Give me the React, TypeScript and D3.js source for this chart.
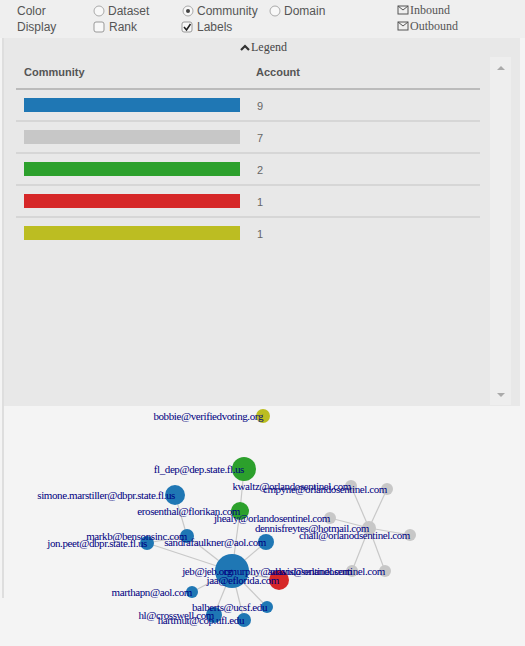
import React, { useEffect, useRef } from 'react';
import * as d3 from 'd3';

const communities = ['c0', 'c1', 'c2', 'c3', 'c4'];
const communityColors = ['#1f77b4', '#c7c7c7', '#2ca02c', '#d62728', '#bcbd22'];
const accountCounts = [9, 7, 2, 1, 1];

const nodeNames = ['bobbie@verifiedvoting.org', 'fl_dep@dep.state.fl.us', 'simone.marstiller@dbpr.state.fl.us', 'erosenthal@florikan.com',
  'markb@bensonsinc.com', 'jon.peet@dbpr.state.fl.us', 'sandrafaulkner@aol.com', 'jeb@jeb.org', 'jaa@eflorida.com',
  'marthapn@aol.com', 'balberts@ucsf.edu', 'hl@crosswell.com', 'hartmut@cop.ufl.edu',
  'kwaltz@orlandosentinel.com', 'cmpyne@orlandosentinel.com', 'jhealy@orlandosentinel.com', 'dennisfreytes@hotmail.com',
  'chall@orlanodsentinel.com', 'cmurphy@orlandosentinel.com', 'adavis@orlandosentinel.com'];
const nodeGroup = [4, 2, 0, 2, 0, 0, 0, 0, 3, 0, 0, 0, 0, 1, 1, 1, 1, 1, 1, 1];
const nodeX = [263, 244, 175, 240, 187, 147, 266, 232, 279, 192, 267, 214, 244, 351, 387, 330, 369, 410, 352, 385];
const nodeY = [416, 469, 495, 511, 536, 543, 542, 571, 580, 592, 607, 615, 620, 486, 489, 518, 528, 535, 571, 571];
const nodeR = [7, 12, 10, 9, 7, 7, 8, 17, 10, 6, 6, 8, 7, 6, 6, 6, 7, 6, 6, 6];
const edgeSource = [7, 7, 7, 7, 7, 7, 7, 7, 7, 3, 4, 4, 16, 16, 16, 16, 16, 16];
const edgeTarget = [6, 4, 3, 8, 9, 10, 11, 12, 5, 1, 2, 5, 13, 14, 15, 17, 18, 19];

export default function App() {
  const ref = useRef<SVGSVGElement>(null);
  useEffect(() => {
    const svg = d3.select(ref.current);
    svg.selectAll('*').remove();
    const sans = 'Arial, "Liberation Sans", sans-serif';
    const serif = '"Times New Roman", "Liberation Serif", serif';

    svg.append('rect').attr('width', 525).attr('height', 646).attr('fill', '#f4f4f4');
    svg.append('rect').attr('width', 525).attr('height', 38).attr('fill', '#efefef');
    svg.append('line').attr('x1', 3).attr('x2', 3).attr('y1', 38).attr('y2', 598).attr('stroke', '#c8c8c8');

    // controls
    const ctl = svg.append('g').attr('font-family', sans).attr('font-size', 12).attr('fill', '#555');
    ctl.append('text').attr('x', 17).attr('y', 15).text('Color');
    ctl.append('text').attr('x', 17).attr('y', 31).text('Display');
    [[99, 'Dataset', false], [188, 'Community', true], [275, 'Domain', false]].forEach(([x, t, on]) => {
      ctl.append('circle').attr('cx', x as number).attr('cy', 11).attr('r', 5).attr('fill', '#f8f8f8').attr('stroke', '#aaa');
      if (on) ctl.append('circle').attr('cx', x as number).attr('cy', 11).attr('r', 2).attr('fill', '#444');
      ctl.append('text').attr('x', (x as number) + 9).attr('y', 15).text(t as string);
    });
    [[94, 'Rank', false], [182, 'Labels', true]].forEach(([x, t, on]) => {
      ctl.append('rect').attr('x', x as number).attr('y', 22).attr('width', 10).attr('height', 10).attr('rx', 2)
        .attr('fill', '#f8f8f8').attr('stroke', '#999');
      if (on) ctl.append('path').attr('d', `M${(x as number) + 2},27 l2.5,3 l4,-6`).attr('stroke', '#222').attr('stroke-width', 1.6).attr('fill', 'none');
      ctl.append('text').attr('x', (x as number) + 15).attr('y', 31).text(t as string);
    });
    [[10, 'Inbound'], [26, 'Outbound']].forEach(([y, t]) => {
      ctl.append('rect').attr('x', 398).attr('y', (y as number) - 4).attr('width', 10).attr('height', 8).attr('fill', 'none').attr('stroke', '#555');
      ctl.append('path').attr('d', `M398,${(y as number) - 4} l5,4 l5,-4`).attr('fill', 'none').attr('stroke', '#555');
      ctl.append('text').attr('x', 410).attr('y', (y as number) + 4).attr('font-family', serif).attr('font-size', 12).text(t as string);
    });

    // legend panel
    svg.append('rect').attr('x', 4).attr('y', 38).attr('width', 516).attr('height', 368).attr('fill', '#e8e8e8');
    svg.append('rect').attr('x', 490).attr('y', 57).attr('width', 21).attr('height', 348).attr('fill', '#eeeeee');
    svg.append('path').attr('d', 'M497,70 l4,-4 l4,4 z').attr('fill', '#aaa');
    svg.append('path').attr('d', 'M497,393 l4,4 l4,-4 z').attr('fill', '#aaa');
    svg.append('path').attr('d', 'M241,50 l4,-4 l4,4').attr('stroke', '#333').attr('stroke-width', 2.2).attr('fill', 'none');
    svg.append('text').attr('x', 251).attr('y', 51).attr('font-family', serif).attr('font-size', 12).attr('fill', '#444').text('Legend');
    svg.append('text').attr('x', 24).attr('y', 76).attr('font-family', sans).attr('font-size', 11).attr('font-weight', 'bold').attr('fill', '#555').text('Community');
    svg.append('text').attr('x', 256).attr('y', 76).attr('font-family', sans).attr('font-size', 11).attr('font-weight', 'bold').attr('fill', '#555').text('Account');
    svg.append('line').attr('x1', 16).attr('x2', 480).attr('y1', 89).attr('y2', 89).attr('stroke', '#bbb').attr('stroke-width', 2);

    const rowY = d3.scaleBand().domain(communities).range([89, 249]);
    const barW = d3.scaleLinear().domain([0, 1]).range([0, 216]);
    const rows = svg.append('g').selectAll('g').data(communities).join('g')
      .attr('transform', d => `translate(0,${rowY(d)})`);
    rows.append('rect').attr('x', 24).attr('y', 9).attr('height', 14).attr('width', barW(1))
      .attr('fill', (d, i) => communityColors[i]);
    rows.append('text').attr('x', 257).attr('y', 21).attr('font-family', sans).attr('font-size', 11).attr('fill', '#666')
      .text((d, i) => accountCounts[i]);
    rows.filter((d, i) => i < communities.length - 1).append('line').attr('x1', 16).attr('x2', 480)
      .attr('y1', rowY.bandwidth()).attr('y2', rowY.bandwidth()).attr('stroke', '#c4c4c4');

    // network
    const net = svg.append('g');
    net.selectAll('line').data(edgeSource).join('line')
      .attr('x1', s => nodeX[s]).attr('y1', s => nodeY[s])
      .attr('x2', (s, i) => nodeX[edgeTarget[i]]).attr('y2', (s, i) => nodeY[edgeTarget[i]])
      .attr('stroke', '#c8c8c8').attr('stroke-width', 1.2);
    net.selectAll('circle').data(nodeNames).join('circle')
      .attr('cx', (d, i) => nodeX[i]).attr('cy', (d, i) => nodeY[i]).attr('r', (d, i) => nodeR[i])
      .attr('fill', (d, i) => communityColors[nodeGroup[i]]);
    net.selectAll('text').data(nodeNames).join('text')
      .attr('x', (d, i) => nodeX[i]).attr('y', (d, i) => nodeY[i] + 4)
      .attr('text-anchor', 'end').attr('font-family', serif).attr('font-size', 11).attr('fill', '#000080')
      .attr('letter-spacing', -0.4)
      .text(d => d);
  }, []);
  return <svg ref={ref} width={525} height={646} style={{ position: 'absolute', left: 0, top: 0 }} />;
}
